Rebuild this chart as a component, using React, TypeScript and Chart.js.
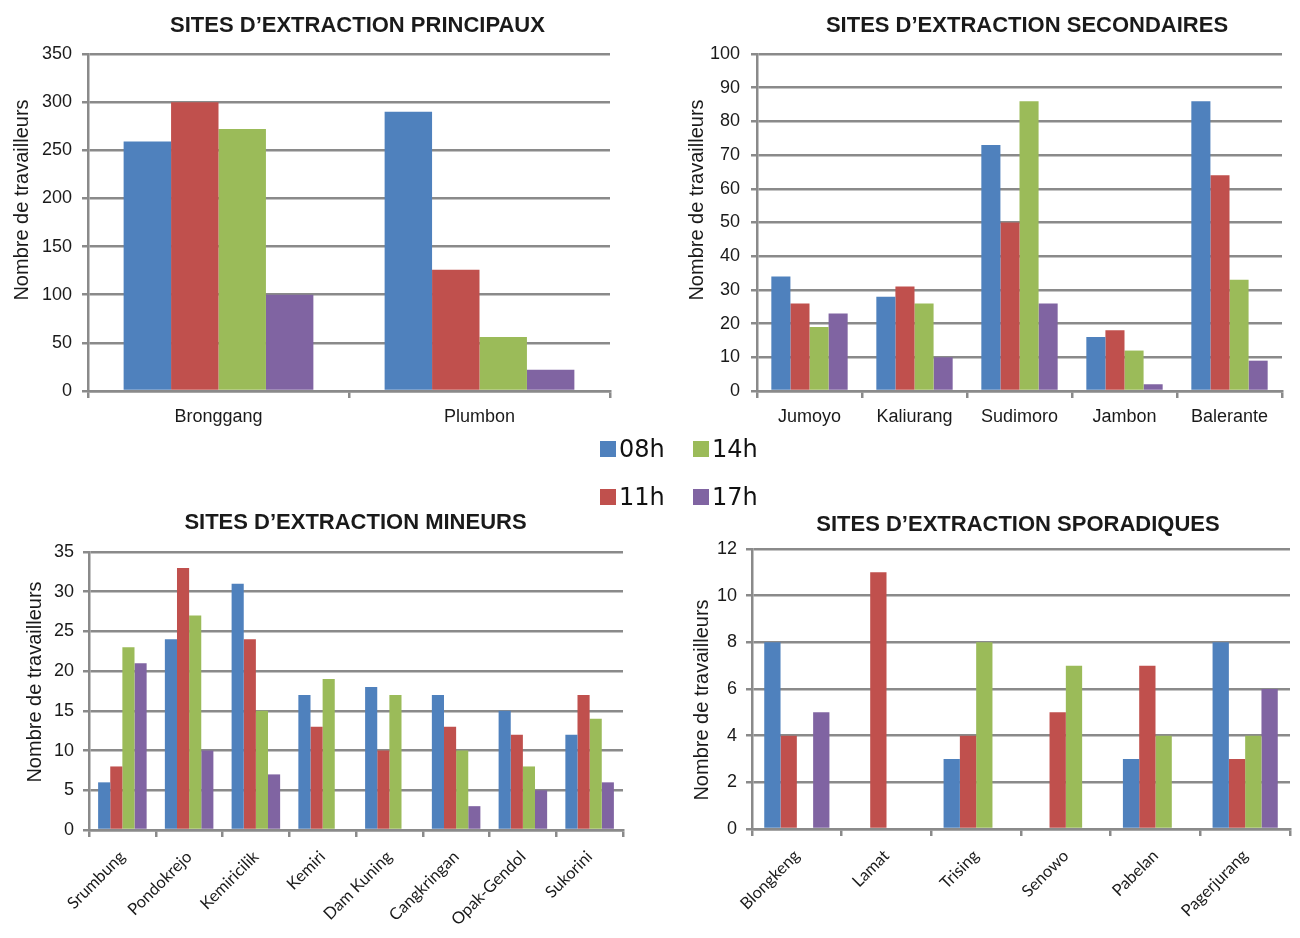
import React, { useEffect, useRef } from "react";
import { Chart, registerables } from "chart.js";

Chart.register(...registerables);

// ---------- data ----------
const seriesLabels = ["08h", "11h", "14h", "17h"];
const seriesColors = ["#4F81BD", "#C0504D", "#9BBB59", "#8064A2"];
const yAxisTitle = "Nombre de travailleurs";

const principauxTitle = "SITES D\u2019EXTRACTION PRINCIPAUX";
const principauxSites = ["Bronggang", "Plumbon"];
const principaux08 = [259, 290];
const principaux11 = [300, 126];
const principaux14 = [272, 56];
const principaux17 = [100, 22];

const secondairesTitle = "SITES D\u2019EXTRACTION SECONDAIRES";
const secondairesSites = ["Jumoyo", "Kaliurang", "Sudimoro", "Jambon", "Balerante"];
const secondaires08 = [34, 28, 73, 16, 86];
const secondaires11 = [26, 31, 50, 18, 64];
const secondaires14 = [19, 26, 86, 12, 33];
const secondaires17 = [23, 10, 26, 2, 9];

const mineursTitle = "SITES D\u2019EXTRACTION MINEURS";
const mineursSites = ["Srumbung", "Pondokrejo", "Kemiricilik", "Kemiri", "Dam Kuning", "Cangkringan", "Opak-Gendol", "Sukorini"];
const mineurs08 = [6, 24, 31, 17, 18, 17, 15, 12];
const mineurs11 = [8, 33, 24, 13, 10, 13, 12, 17];
const mineurs14 = [23, 27, 15, 19, 17, 10, 8, 14];
const mineurs17 = [21, 10, 7, null, null, 3, 5, 6];

const sporadiquesTitle = "SITES D\u2019EXTRACTION SPORADIQUES";
const sporadiquesSites = ["Blongkeng", "Lamat", "Trising", "Senowo", "Pabelan", "Pagerjurang"];
const sporadiques08 = [8, null, 3, null, 3, 8];
const sporadiques11 = [4, 11, 4, 5, 7, 3];
const sporadiques14 = [null, null, 8, 7, 4, 4];
const sporadiques17 = [5, null, null, null, null, 6];

// ---------- style ----------
const GRID = "#8a8a8a";
const TEXT = "#1a1a1a";
const SANS = "'Liberation Sans', Arial, sans-serif";

// draws the rotated y-axis title at a given canvas position
const axisTitlePlugin = {
  id: "axisTitleAt",
  afterDraw(chart: any, _args: any, opts: any) {
    if (!opts || !opts.text) return;
    const ctx = chart.ctx;
    ctx.save();
    ctx.translate(opts.x, opts.y);
    ctx.rotate(-Math.PI / 2);
    ctx.textAlign = "center";
    ctx.textBaseline = "middle";
    ctx.font = `20px ${SANS}`;
    ctx.fillStyle = TEXT;
    ctx.fillText(opts.text, 0, 0);
    ctx.restore();
  },
};

type Area = { left: number; top: number; right: number; bottom: number };
type PanelProps = {
  title: string;
  categories: string[];
  series: (number | null)[][];
  yMax: number;
  yStep: number;
  rotate: boolean;
  box: { left: number; top: number; width: number; height: number };
  area: Area;
  yTitle: { x: number; y: number };
  yTickPad: number;
  xTickPad: number;
  titleCenter: { x: number; y: number; size: number };
};

function Panel(p: PanelProps) {
  const ref = useRef<HTMLCanvasElement | null>(null);
  useEffect(() => {
    if (!ref.current) return;
    const { width, height } = p.box;
    const chart = new Chart(ref.current, {
      type: "bar",
      data: {
        labels: p.categories,
        datasets: p.series.map((d, i) => ({
          label: seriesLabels[i],
          data: d,
          backgroundColor: seriesColors[i],
          borderWidth: 0,
          categoryPercentage: 0.727,
          barPercentage: 1,
        })),
      },
      plugins: [axisTitlePlugin],
      options: {
        responsive: false,
        animation: false,
        layout: { padding: { left: 0, top: p.area.top, right: width - p.area.right, bottom: 0 } },
        plugins: {
          legend: { display: false },
          tooltip: { enabled: false },
          title: { display: false },
          axisTitleAt: { text: yAxisTitle, x: p.yTitle.x, y: p.yTitle.y },
        },
        scales: {
          x: {
            grid: { display: true, drawOnChartArea: false, drawTicks: true, tickLength: 7, color: GRID, lineWidth: 2.5, offset: true },
            border: { display: true, color: GRID, width: 2.5 },
            ticks: {
              autoSkip: false,
              maxRotation: p.rotate ? 45 : 0,
              minRotation: p.rotate ? 45 : 0,
              padding: p.xTickPad,
              color: TEXT,
              font: p.rotate ? { family: "Lato, 'Open Sans', sans-serif", size: 16.5 } : { family: SANS, size: 18 },
            },
            afterFit: (s: any) => {
              s.height = height - p.area.bottom;
            },
          },
          y: {
            min: 0,
            max: p.yMax,
            ticks: { stepSize: p.yStep, padding: p.yTickPad, color: TEXT, font: { family: SANS, size: 18 } },
            grid: { color: GRID, lineWidth: 2.5, tickLength: 6, drawTicks: true },
            border: { display: true, color: GRID, width: 2.5 },
            afterFit: (s: any) => {
              s.width = p.area.left;
            },
          },
        },
      } as any,
    });
    return () => chart.destroy();
  }, []);
  return (
    <>
      <canvas
        ref={ref}
        width={p.box.width}
        height={p.box.height}
        style={{ position: "absolute", left: p.box.left, top: p.box.top, width: p.box.width, height: p.box.height }}
      />
      <div
        style={{
          position: "absolute",
          left: p.box.left + p.titleCenter.x - 350,
          width: 700,
          top: p.box.top + p.titleCenter.y - p.titleCenter.size / 2,
          textAlign: "center",
          fontFamily: SANS,
          fontWeight: "bold",
          fontSize: p.titleCenter.size,
          lineHeight: 1,
          color: TEXT,
          whiteSpace: "nowrap",
        }}
      >
        {p.title}
      </div>
    </>
  );
}

function Legend() {
  const cols = [600, 693];
  const rows = [448.5, 497];
  return (
    <>
      {seriesLabels.map((lab, i) => (
        <div
          key={lab}
          style={{
            position: "absolute",
            left: cols[Math.floor(i / 2)],
            top: rows[i % 2] - 12,
            height: 24,
            display: "flex",
            alignItems: "center",
            fontFamily: "'DejaVu Sans', sans-serif",
            fontSize: 24,
            lineHeight: 1,
            color: "#111",
          }}
        >
          <span style={{ display: "inline-block", width: 16, height: 16, background: seriesColors[i], marginRight: 3 }} />
          <span>{lab}</span>
        </div>
      ))}
    </>
  );
}

export default function App() {
  return (
    <div style={{ position: "absolute", left: 0, top: 0, width: 1300, height: 938, background: "#ffffff", overflow: "hidden" }}>
      <Panel
        title={principauxTitle}
        categories={principauxSites}
        series={[principaux08, principaux11, principaux14, principaux17]}
        yMax={350}
        yStep={50}
        rotate={false}
        box={{ left: 0, top: 0, width: 650, height: 440 }}
        area={{ left: 88, top: 54, right: 610, bottom: 391 }}
        yTitle={{ x: 22, y: 200 }}
        yTickPad={10}
        xTickPad={8}
        titleCenter={{ x: 357.5, y: 25, size: 22 }}
      />
      <Panel
        title={secondairesTitle}
        categories={secondairesSites}
        series={[secondaires08, secondaires11, secondaires14, secondaires17]}
        yMax={100}
        yStep={10}
        rotate={false}
        box={{ left: 650, top: 0, width: 650, height: 440 }}
        area={{ left: 107, top: 54, right: 632, bottom: 391 }}
        yTitle={{ x: 47, y: 200 }}
        yTickPad={11}
        xTickPad={8}
        titleCenter={{ x: 377, y: 25, size: 22 }}
      />
      <Panel
        title={mineursTitle}
        categories={mineursSites}
        series={[mineurs08, mineurs11, mineurs14, mineurs17]}
        yMax={35}
        yStep={5}
        rotate={true}
        box={{ left: 0, top: 440, width: 650, height: 498 }}
        area={{ left: 89, top: 112, right: 623, bottom: 390 }}
        yTitle={{ x: 35, y: 242 }}
        yTickPad={9}
        xTickPad={10}
        titleCenter={{ x: 355.5, y: 82, size: 22 }}
      />
      <Panel
        title={sporadiquesTitle}
        categories={sporadiquesSites}
        series={[sporadiques08, sporadiques11, sporadiques14, sporadiques17]}
        yMax={12}
        yStep={2}
        rotate={true}
        box={{ left: 650, top: 440, width: 650, height: 498 }}
        area={{ left: 102, top: 109, right: 640, bottom: 389 }}
        yTitle={{ x: 52, y: 260 }}
        yTickPad={9}
        xTickPad={10}
        titleCenter={{ x: 368, y: 84, size: 22 }}
      />
      <Legend />
    </div>
  );
}
